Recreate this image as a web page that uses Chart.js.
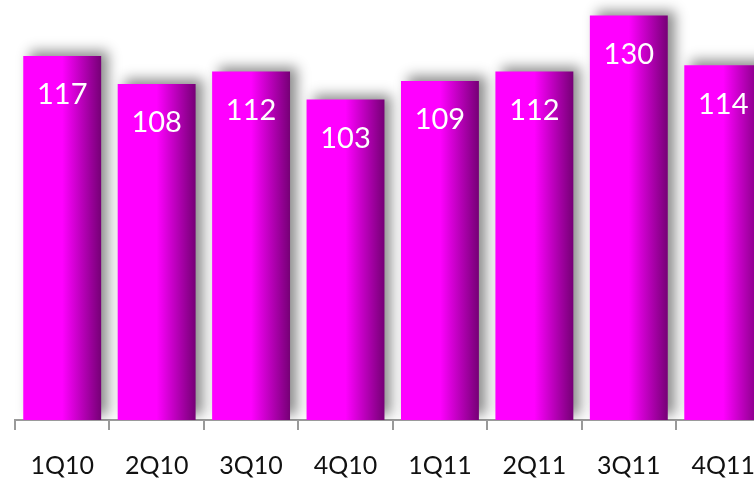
<!DOCTYPE html>
<html>
<head>
<meta charset="utf-8">
<script src="https://cdn.jsdelivr.net/npm/chart.js@4"></script>
<style>
    html, body { margin: 0; padding: 0; background: #fff; overflow: hidden; }
    #wrap { width: 754px; height: 481px; overflow: hidden; }
</style>
</head>
<body>
<div id="wrap"><canvas id="chart" width="776" height="481"></canvas></div>
<script>
const quarters = ['1Q10', '2Q10', '3Q10', '4Q10', '1Q11', '2Q11', '3Q11', '4Q11'];
const values = [117, 108, 112, 103, 109, 112, 130, 114];

// Horizontal gradient per bar: bright magenta fading into dark purple on the right
const barGradient = (context) => {
    const chart = context.chart;
    const { ctx, chartArea, scales } = chart;
    if (!chartArea || !scales.x) return '#ff00ff';
    const cx = scales.x.getPixelForValue(context.dataIndex);
    const half = scales.x.width / quarters.length * 0.825 / 2;
    const g = ctx.createLinearGradient(cx - half, 0, cx + half, 0);
    g.addColorStop(0, '#ff00ff');
    g.addColorStop(0.5, '#ff00ff');
    g.addColorStop(1, '#760076');
    return g;
};

// Soft grey shadow behind bars
const barShadow = {
    id: 'barShadow',
    beforeDatasetsDraw: (chart) => {
        const ctx = chart.ctx;
        ctx.save();
        ctx.shadowColor = 'rgba(0,0,0,0.45)';
        ctx.shadowBlur = 12;
        ctx.shadowOffsetX = 7;
        ctx.shadowOffsetY = -5;
    },
    afterDatasetsDraw: (chart) => {
        chart.ctx.restore();
    }
};

// White value labels inside the top of each bar
const valueLabels = {
    id: 'valueLabels',
    afterDatasetsDraw: (chart) => {
        const ctx = chart.ctx;
        const meta = chart.getDatasetMeta(0);
        ctx.save();
        ctx.fillStyle = '#fff';
        ctx.font = '29px Lato, sans-serif';
        ctx.textAlign = 'center';
        ctx.textBaseline = 'middle';
        meta.data.forEach((bar, i) => {
            ctx.fillText(String(values[i]), bar.x, bar.y + 39);
        });
        ctx.restore();
    }
};

new Chart(document.getElementById('chart').getContext('2d'), {
    type: 'bar',
    plugins: [barShadow, valueLabels],
    data: {
        labels: quarters,
        datasets: [{
            data: values,
            backgroundColor: barGradient,
            borderWidth: 0,
            categoryPercentage: 1,
            barPercentage: 0.825
        }]
    },
    options: {
        responsive: false,
        animation: false,
        layout: { padding: { left: 15, right: 0, top: 0, bottom: 0 } },
        plugins: {
            legend: { display: false },
            tooltip: { enabled: false }
        },
        scales: {
            y: { display: false, min: 0, max: 135 },
            x: {
                afterFit: (scale) => { scale.height = 61; },
                border: { display: true, color: '#9a9a9a', width: 2 },
                grid: {
                    offset: true,
                    drawOnChartArea: false,
                    drawTicks: true,
                    tickLength: 10,
                    color: '#9a9a9a',
                    lineWidth: 2
                },
                ticks: {
                    color: '#111',
                    font: { family: 'Lato, sans-serif', size: 25 },
                    padding: 21
                }
            }
        }
    }
});
</script>
</body>
</html>
